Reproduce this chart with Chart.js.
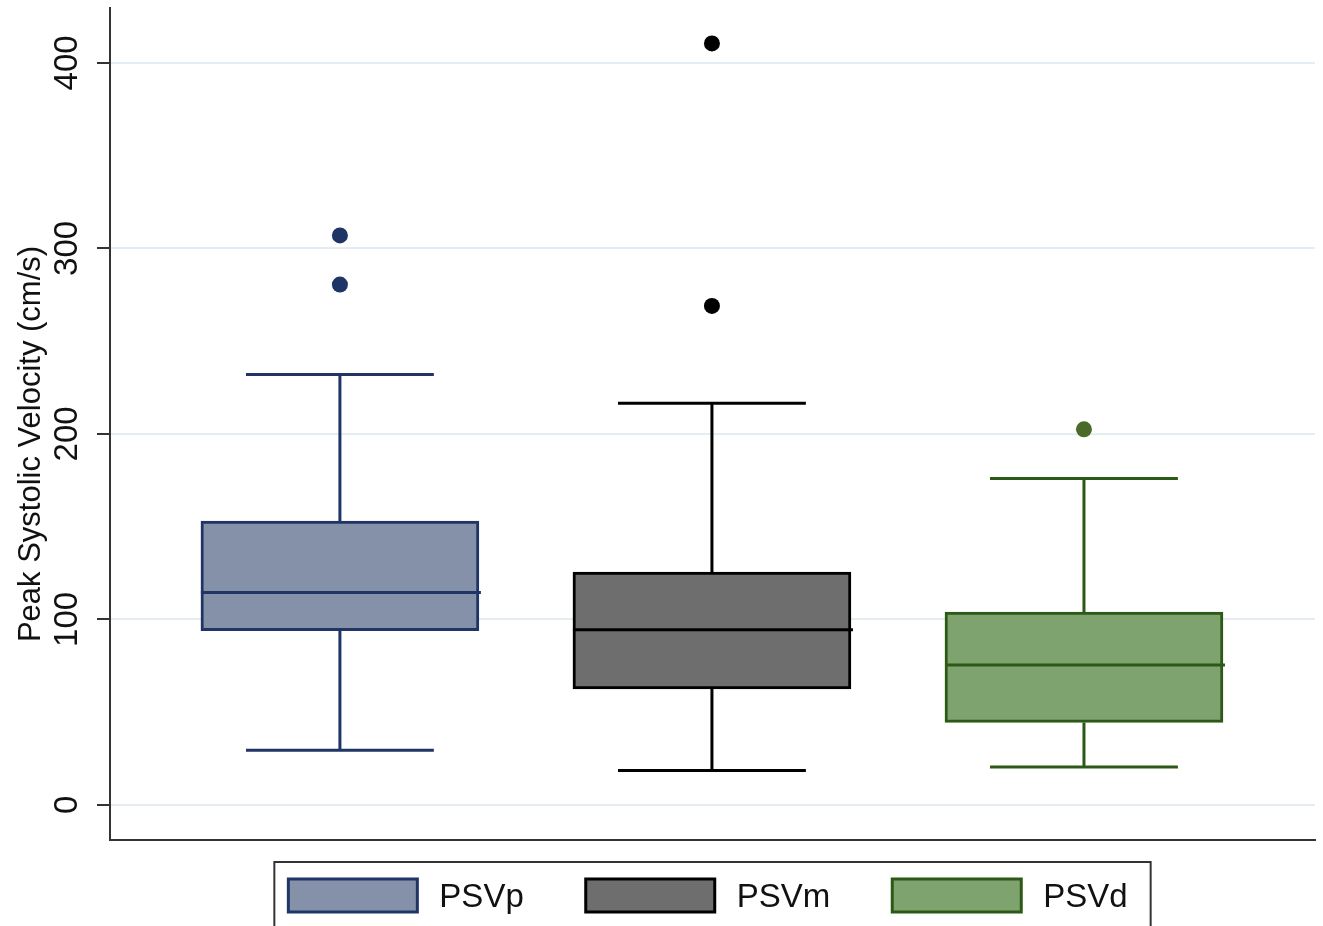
<!DOCTYPE html>
<html>
<head>
<meta charset="utf-8">
<style>
html, body { margin: 0; padding: 0; background: #fff; }
#wrap { width: 1323px; height: 926px; }
</style>
<script src="https://cdn.jsdelivr.net/npm/chart.js@4.4.1/dist/chart.umd.min.js"></script>
</head>
<body>
<div id="wrap"><canvas id="psv"></canvas></div>
<script>
// box plot values (cm/s)
var groups = ["PSVp", "PSVm", "PSVd"];
var groupX = [1, 2, 3];
var lowWhisker = [29.5, 18.5, 20.5];
var q1 = [94, 62.5, 44.5];
var medians = [114.5, 94.5, 75.5];
var q3 = [153, 125.5, 104];
var highWhisker = [232, 216.5, 176];
var outliers = [[307, 280.5], [410.5, 269], [202.5]];
var yTicks = [0, 100, 200, 300, 400];

var fills = ["#8591a8", "#6e6e6e", "#7ea36e"];
var borders = ["#1f3566", "#000000", "#2c5a16"];
var dotColors = ["#1f3566", "#000000", "#4a6a2a"];

var FONT = '"Liberation Sans", Arial, sans-serif';
var capWidth = 0.505; // in x units

var datasets = [];
groups.forEach(function (g, i) {
    datasets.push({
        type: "bar",
        label: g,
        data: [{ x: groupX[i], y: [q1[i], q3[i]] }],
        backgroundColor: fills[i],
        borderColor: borders[i],
        borderWidth: 3,
        borderSkipped: false,
        barThickness: 278,
        grouped: false,
    });
});
groups.forEach(function (g, i) {
    datasets.push({
        type: "scatter",
        label: g + " outliers",
        data: outliers[i].map(function (v) { return { x: groupX[i], y: v }; }),
        backgroundColor: dotColors[i],
        borderWidth: 0,
        pointRadius: 8,
    });
});

var boxParts = {
    id: "boxParts",
    beforeDatasetsDraw: function (chart) {
        var ctx = chart.ctx, xs = chart.scales.x, ys = chart.scales.y;
        ctx.save();
        ctx.lineWidth = 3;
        groups.forEach(function (g, i) {
            var cx = xs.getPixelForValue(groupX[i]);
            var l = xs.getPixelForValue(groupX[i] - capWidth / 2);
            var r = xs.getPixelForValue(groupX[i] + capWidth / 2);
            ctx.strokeStyle = borders[i];
            ctx.beginPath();
            ctx.moveTo(cx, ys.getPixelForValue(q3[i]));
            ctx.lineTo(cx, ys.getPixelForValue(highWhisker[i]));
            ctx.moveTo(l, ys.getPixelForValue(highWhisker[i]));
            ctx.lineTo(r, ys.getPixelForValue(highWhisker[i]));
            ctx.moveTo(cx, ys.getPixelForValue(q1[i]));
            ctx.lineTo(cx, ys.getPixelForValue(lowWhisker[i]));
            ctx.moveTo(l, ys.getPixelForValue(lowWhisker[i]));
            ctx.lineTo(r, ys.getPixelForValue(lowWhisker[i]));
            ctx.stroke();
        });
        ctx.restore();
    },
    afterDatasetsDraw: function (chart) {
        var ctx = chart.ctx, ys = chart.scales.y;
        ctx.save();
        ctx.lineWidth = 3;
        groups.forEach(function (g, i) {
            var bar = chart.getDatasetMeta(i).data[0];
            var y = ys.getPixelForValue(medians[i]);
            ctx.strokeStyle = borders[i];
            ctx.beginPath();
            ctx.moveTo(bar.x - bar.width / 2, y);
            ctx.lineTo(bar.x + bar.width / 2 + 2, y);
            ctx.stroke();
        });
        ctx.restore();
    },
    afterDraw: function (chart) {
        var ctx = chart.ctx, area = chart.chartArea;
        ctx.save();
        // y axis title
        ctx.fillStyle = "#111";
        ctx.font = "31px " + FONT;
        ctx.textAlign = "center";
        ctx.textBaseline = "middle";
        ctx.translate(31, 444);
        ctx.rotate(-Math.PI / 2);
        ctx.fillText("Peak Systolic Velocity (cm/s)", 0, 0);
        ctx.restore();

        // legend in a frame below the plot
        ctx.save();
        ctx.font = "33px " + FONT;
        var sw = 129, sh = 33, gap = 22, spacing = 62;
        var widths = groups.map(function (g) { return sw + gap + ctx.measureText(g).width; });
        var total = widths.reduce(function (a, b) { return a + b; }, 0) + spacing * (groups.length - 1);
        var x = (area.left + area.right) / 2 - 4.5 - total / 2;
        var top = 879;
        ctx.strokeStyle = "#333";
        ctx.lineWidth = 2;
        ctx.strokeRect(x - 14, 862, total + 37, 100);
        groups.forEach(function (g, i) {
            ctx.fillStyle = fills[i];
            ctx.fillRect(x, top, sw, sh);
            ctx.strokeStyle = borders[i];
            ctx.lineWidth = 3;
            ctx.strokeRect(x, top, sw, sh);
            ctx.fillStyle = "#111";
            ctx.textAlign = "left";
            ctx.textBaseline = "alphabetic";
            ctx.fillText(g, x + sw + gap, 907);
            x += widths[i] + spacing;
        });
        ctx.restore();
    },
};

var chart = new Chart(document.getElementById("psv").getContext("2d"), {
    data: { datasets: datasets },
    options: {
        responsive: true,
        maintainAspectRatio: false,
        animation: false,
        devicePixelRatio: 1,
        layout: { padding: { left: 0, right: 8, top: 8, bottom: 86 } },
        plugins: {
            legend: { display: false },
            tooltip: { enabled: false },
        },
        scales: {
            x: {
                type: "linear",
                offset: false,
                min: 0.382,
                max: 3.621,
                ticks: { display: false },
                grid: { display: false, drawTicks: false },
                border: { color: "#333", width: 2 },
                afterFit: function (s) { s.height = 0; },
            },
            y: {
                min: -18.9,
                max: 429.6,
                afterBuildTicks: function (s) {
                    s.ticks = yTicks.map(function (v) { return { value: v }; });
                },
                afterFit: function (s) {
                    s.width = 110;
                    s.paddingTop = 0;
                    s.paddingBottom = 0;
                },
                grid: { color: "#e4edf2", lineWidth: 2, tickLength: 13, tickColor: "#333", tickWidth: 2 },
                border: { color: "#333", width: 2 },
                ticks: {
                    minRotation: 90,
                    maxRotation: 90,
                    crossAlign: "center",
                    padding: 2,
                    color: "#111",
                    font: { size: 33, family: FONT },
                },
            },
        },
    },
    plugins: [boxParts],
});
</script>
</body>
</html>
